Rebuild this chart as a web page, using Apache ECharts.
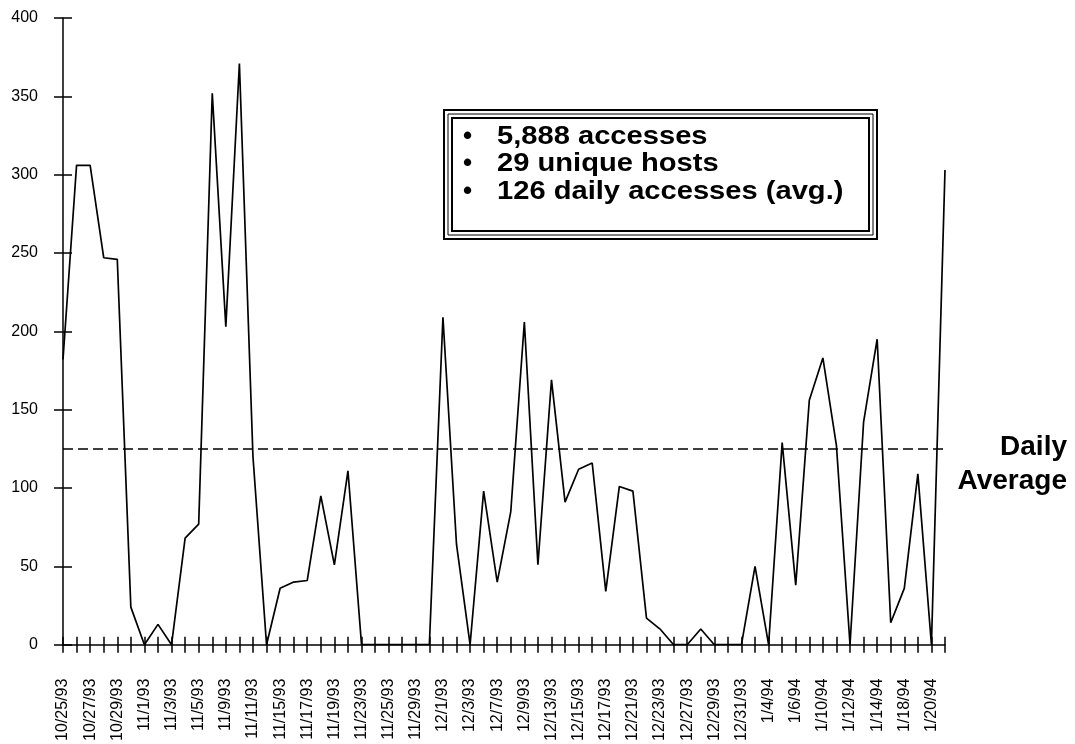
<!DOCTYPE html>
<html>
<head>
<meta charset="utf-8">
<script src="https://cdn.jsdelivr.net/npm/echarts@6/dist/echarts.min.js"></script>
<style>
  html, body { margin: 0; padding: 0; background: #fff; }
  #chart { width: 1075px; height: 744px; }
</style>
</head>
<body>
<div id="chart"></div>
<script>
const dates = [
  '10/25/93','10/26/93','10/27/93','10/28/93','10/29/93','10/31/93',
  '11/1/93','11/2/93','11/3/93','11/4/93','11/5/93','11/8/93',
  '11/9/93','11/10/93','11/11/93','11/12/93','11/15/93','11/16/93',
  '11/17/93','11/18/93','11/19/93','11/22/93','11/23/93','11/24/93',
  '11/25/93','11/26/93','11/29/93','11/30/93','12/1/93','12/2/93',
  '12/3/93','12/6/93','12/7/93','12/8/93','12/9/93','12/10/93',
  '12/13/93','12/14/93','12/15/93','12/16/93','12/17/93','12/20/93',
  '12/21/93','12/22/93','12/23/93','12/24/93','12/27/93','12/28/93',
  '12/29/93','12/30/93','12/31/93','1/3/94','1/4/94','1/5/94',
  '1/6/94','1/7/94','1/10/94','1/11/94','1/12/94','1/13/94',
  '1/14/94','1/17/94','1/18/94','1/19/94','1/20/94','1/21/94'
];
const accesses = [
  182, 306, 306, 247, 246, 24,
  0, 13, 0, 68, 77, 352,
  203, 371, 120, 0, 36, 40,
  41, 95, 51, 111, 0, 0,
  0, 0, 0, 0, 209, 64,
  0, 98, 40, 85, 206, 51,
  169, 91, 112, 116, 34, 101,
  98, 17, 10, 0, 0, 10,
  0, 0, 0, 50, 0, 129,
  38, 156, 183, 127, 0, 142,
  195, 14, 36, 109, 0, 303
];
const dailyAverage = 125;
const yTicks = { min: 0, max: 400, interval: 50 };
const statLines = ['5,888 accesses', '29 unique hosts', '126 daily accesses (avg.)'];
const avgLabel = ['Daily', 'Average'];

const FONT = '"Liberation Sans", Arial, sans-serif';
const chart = echarts.init(document.getElementById('chart'), null, { renderer: 'canvas' });

const gridLeft = 63, gridRight = 1075 - 945, gridTop = 18, gridBottom = 744 - 646;

chart.setOption({
  backgroundColor: '#fff',
  animation: false,
  grid: { left: gridLeft, right: gridRight, top: gridTop, bottom: gridBottom, containLabel: false },
  xAxis: [
    {
      type: 'category', data: dates, boundaryGap: false, position: 'bottom',
      axisLine: { lineStyle: { color: '#000', width: 1.5 } },
      axisTick: { show: true, interval: 0, length: 8, inside: false, lineStyle: { color: '#000', width: 1.5 } },
      axisLabel: { interval: 1, rotate: 90, margin: 34, color: '#000', fontFamily: FONT, fontSize: 16 },
      splitLine: { show: false }
    },
    {
      type: 'category', data: dates, boundaryGap: false, position: 'bottom', offset: 0,
      axisLine: { show: false },
      axisTick: { show: true, interval: 0, length: 8, inside: true, lineStyle: { color: '#000', width: 1.5 } },
      axisLabel: { show: false },
      splitLine: { show: false }
    }
  ],
  yAxis: [
    {
      type: 'value', min: yTicks.min, max: yTicks.max, interval: yTicks.interval, position: 'left',
      axisLine: { show: true, lineStyle: { color: '#000', width: 1.5 } },
      axisTick: { show: true, length: 9, inside: false, lineStyle: { color: '#000', width: 1.5 } },
      axisLabel: { margin: 25, color: '#000', fontFamily: FONT, fontSize: 16 },
      splitLine: { show: false }
    },
    {
      type: 'value', min: yTicks.min, max: yTicks.max, interval: yTicks.interval, position: 'left', offset: 0,
      axisLine: { show: false },
      axisTick: { show: true, length: 9, inside: true, lineStyle: { color: '#000', width: 1.5 } },
      axisLabel: { show: false },
      splitLine: { show: false }
    }
  ],
  series: [
    {
      type: 'line', data: accesses, xAxisIndex: 0, yAxisIndex: 0,
      symbol: 'none', lineStyle: { color: '#000', width: 1.7 },
      markLine: {
        silent: true, symbol: 'none',
        label: { show: false },
        lineStyle: { color: '#000', width: 1.5, type: [10, 5] },
        data: [{ yAxis: dailyAverage }]
      }
    }
  ],
  graphic: [
    { type: 'rect', shape: { x: 444, y: 110, width: 433, height: 129 }, style: { fill: '#fff', stroke: '#000', lineWidth: 2 } },
    { type: 'rect', shape: { x: 448, y: 114, width: 425, height: 121 }, style: { fill: 'none', stroke: '#000', lineWidth: 1 } },
    { type: 'rect', shape: { x: 452, y: 118, width: 417, height: 113 }, style: { fill: 'none', stroke: '#000', lineWidth: 2 } },
    { type: 'text', x: 463, y: 123, style: { text: statLines.map(() => '•').join('\n'), font: 'bold 26px ' + FONT, lineHeight: 27.5, fill: '#000' } },
    { type: 'text', x: 497, y: 123, scaleX: 1.12, style: { text: statLines.join('\n'), font: 'bold 26px ' + FONT, lineHeight: 27.5, fill: '#000' } },
    { type: 'text', x: 1067, y: 430, style: { text: avgLabel.join('\n'), font: 'bold 28px ' + FONT, lineHeight: 34, fill: '#000', align: 'right' } }
  ]
});
</script>
</body>
</html>
